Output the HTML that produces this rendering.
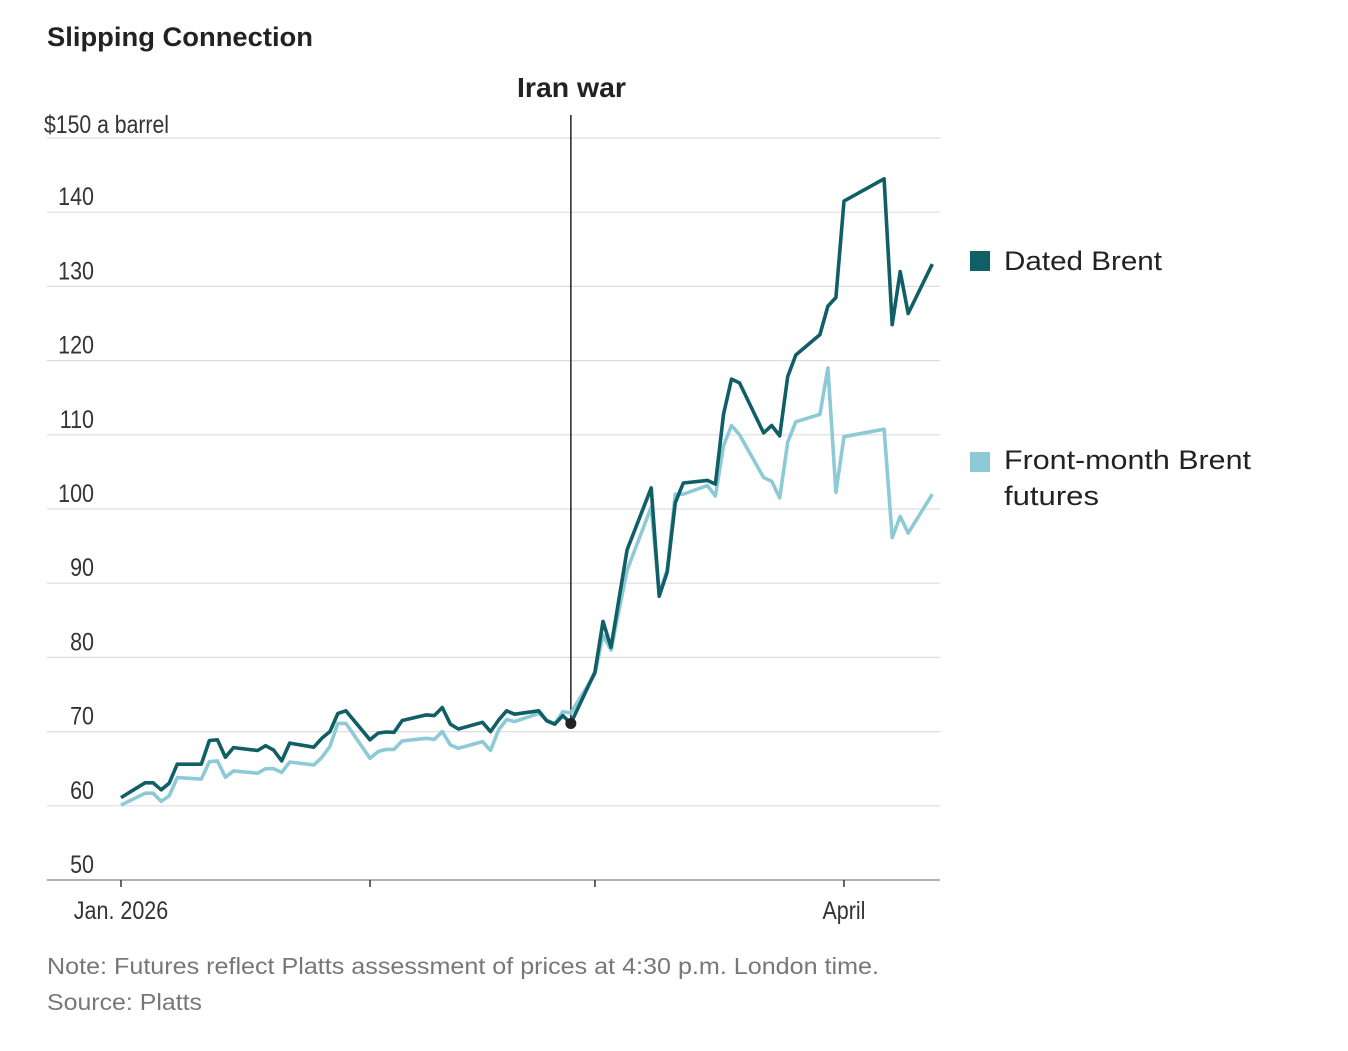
<!DOCTYPE html>
<html><head><meta charset="utf-8"><style>
body{margin:0;background:#fff;width:1348px;height:1046px;overflow:hidden;font-family:"Liberation Sans",sans-serif}
svg text{font-family:"Liberation Sans",sans-serif}
</style></head><body>
<svg id="c" width="1348" height="1046">
<text x="47" y="46" font-size="27" font-weight="bold" fill="#222" textLength="266" lengthAdjust="spacingAndGlyphs">Slipping Connection</text>
<g id="grid"></g><g id="axes"></g><g id="lines"></g>
<text x="517" y="97" font-size="28" font-weight="bold" fill="#222" textLength="109" lengthAdjust="spacingAndGlyphs">Iran war</text>
<rect x="970" y="251" width="20" height="20" fill="#105f66"/>
<text x="1004" y="270" font-size="27" fill="#222" textLength="158" lengthAdjust="spacingAndGlyphs">Dated Brent</text>
<rect x="970" y="452" width="20" height="20" fill="#8ecad6"/>
<text x="1004" y="469" font-size="27" fill="#222" textLength="247" lengthAdjust="spacingAndGlyphs">Front-month Brent</text>
<text x="1004" y="505" font-size="27" fill="#222" textLength="95" lengthAdjust="spacingAndGlyphs">futures</text>
<text x="47" y="974" font-size="23" fill="#777" textLength="832" lengthAdjust="spacingAndGlyphs">Note: Futures reflect Platts assessment of prices at 4:30 p.m. London time.</text>
<text x="47" y="1010" font-size="23" fill="#777" textLength="155" lengthAdjust="spacingAndGlyphs">Source: Platts</text>
</svg>
<script>
const yTicks=[50,60,70,80,90,100,110,120,130,140,150];
const xTickDays=[0,31,59,90];
const xTickLabels=["Jan. 2026","","","April"];
const days=[0,3,4,5,6,7,10,11,12,13,14,17,18,19,20,21,24,25,26,27,28,31,32,33,34,35,38,39,40,41,42,45,46,47,48,49,52,53,54,55,56,59,60,61,63,66,67,68,69,70,73,74,75,76,77,80,81,82,83,84,87,88,89,90,95,96,97,98,101];
const dated=[61.1,63.1,63.1,62.15,63.05,65.6,65.6,68.8,68.9,66.55,67.85,67.45,68.1,67.5,66.05,68.45,67.9,69.1,70,72.45,72.8,68.9,69.8,69.95,69.9,71.5,72.25,72.15,73.25,71,70.35,71.25,70,71.55,72.8,72.35,72.8,71.45,71,72.15,71.1,78,84.85,81.35,94.5,102.85,88.25,91.5,100.85,103.5,103.85,103.35,112.75,117.5,117,110.25,111.25,109.85,117.85,120.75,123.5,127.35,128.5,141.5,144.5,124.85,132,126.35,133];
const futures=[60.1,61.7,61.7,60.6,61.35,63.8,63.6,65.95,66.05,63.85,64.7,64.4,65,65,64.5,65.9,65.5,66.5,68,71.1,71.1,66.4,67.3,67.6,67.6,68.75,69.1,68.95,70,68.2,67.75,68.65,67.45,70.2,71.65,71.35,72.45,71.55,71.05,72.7,72.5,77.75,83,81,91.75,100.25,88.5,91.8,102,102,103.15,101.75,108.5,111.25,110,104.25,103.75,101.5,109,111.75,112.75,119,102.25,109.75,110.75,96.15,99,96.75,102];
const warDay=56, warValue=71.1;
const NS="http://www.w3.org/2000/svg";
const X=d=>121+d*8.033, Y=v=>880-(v-50)*7.42;
function mk(tag,attrs,parent){const e=document.createElementNS(NS,tag);for(const k in attrs)e.setAttribute(k,attrs[k]);document.getElementById(parent).appendChild(e);return e;}
yTicks.forEach(v=>{
 const l=mk('line',{x1:47,x2:940,y1:Y(v),y2:Y(v),stroke:v===50?'#999':'#ddd','stroke-width':v===50?1.5:1.2},'grid');
 
 
 if(v!==150){
 const t=mk('text',{x:94,y:Y(v)-7,'font-size':25,fill:'#333','text-anchor':'end',transform:'translate(94,0) scale(0.86,1) translate(-94,0)'},'grid');
 t.textContent=v;
 
 
 }
});
const yt=mk('text',{x:44,y:Y(150)-5,'font-size':25,fill:'#333',textLength:125,lengthAdjust:'spacingAndGlyphs'},'grid');yt.textContent='$150 a barrel';


xTickDays.forEach((d,i)=>{
 const l=mk('line',{x1:X(d),x2:X(d),y1:880,y2:887,stroke:'#333','stroke-width':1.5},'axes');
 
 
 if(xTickLabels[i]){const cx=X(d);const t=mk('text',{x:cx,y:919,'font-size':25,fill:'#333','text-anchor':'middle',transform:'translate('+cx+',0) scale(0.86,1) translate('+(-cx)+',0)'},'axes');t.textContent=xTickLabels[i];
 
 }
});
const wl=mk('line',{x1:X(warDay),x2:X(warDay),y1:115,y2:Y(warValue),stroke:'#222','stroke-width':1.5},'lines');


function pts(arr){return days.map((d,i)=>X(d).toFixed(1)+','+Y(arr[i]).toFixed(1)).join(' ');}
const fl=mk('polyline',{points:pts(futures),fill:'none',stroke:'#8ecad6','stroke-width':3.6,'stroke-linejoin':'round'},'lines');


const dl=mk('polyline',{points:pts(dated),fill:'none',stroke:'#105f66','stroke-width':3.6,'stroke-linejoin':'round'},'lines');


const dot=mk('circle',{cx:X(warDay),cy:Y(warValue),r:5.5,fill:'#222'},'lines');


</script>
</body></html>
